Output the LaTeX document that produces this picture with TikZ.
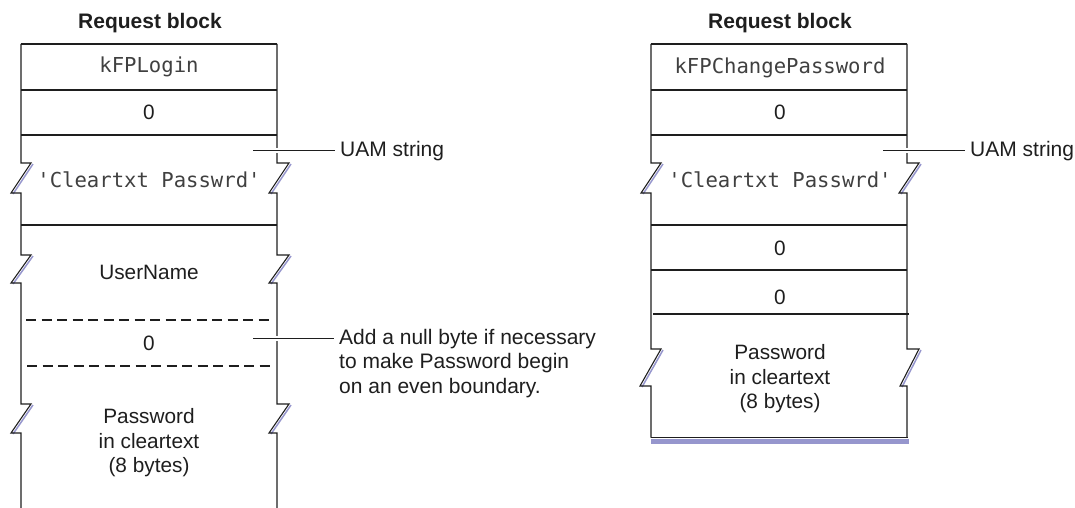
\documentclass[tikz,border=0pt]{standalone}
\usepackage{fontspec}
\setmainfont{Liberation Sans}
\newfontfamily\monofam{DejaVu Sans Mono}
\definecolor{shadowblue}{RGB}{150,150,205}
\definecolor{ink}{RGB}{30,30,30}
\begin{document}
\begin{tikzpicture}[x=1pt,y=-1pt,
  edge/.style={draw=ink, line width=1.1pt, line join=miter},
  sep/.style={draw=ink, line width=1.1pt},
  dsep/.style={draw=ink, line width=1.1pt, dash pattern=on 10pt off 5.5pt},
  shade/.style={draw=shadowblue, line width=1.5pt},
  lbl/.style={font=\fontsize{20.8}{24.5}\selectfont, text=ink, inner sep=0pt, align=center},
  note/.style={font=\fontsize{21}{24.5}\selectfont, text=ink, inner sep=0pt, align=left, anchor=west},
  mono/.style={font=\monofam\fontsize{20.6}{24}\selectfont, text=ink!85, inner sep=0pt},
  heading/.style={font=\bfseries\fontsize{21}{24}\selectfont, text=ink, inner sep=0pt},
  leader/.style={draw=ink, line width=1pt, shorten >=5pt, preaction={draw=white, line width=5pt, shorten >=5pt}}]
\useasboundingbox (0,0) rectangle (1075,508);

% ---------------- left block ----------------
\node[heading] (titleL) at (150,23) {Request block};
% shadows of breaks
\foreach \ya/\yb in {163/193, 255/283, 404/433} {
  \draw[shade] (33,\ya+1) -- (13,\yb+1);
  \draw[shade] (291,\ya+1) -- (271,\yb+1);
}
\draw[edge] (21,44) -- (21,163) -- (31,163) -- (11,193) -- (21,193)
  -- (21,255) -- (31,255) -- (11,283) -- (21,283)
  -- (21,404) -- (31,404) -- (11,433) -- (21,433) -- (21,508);
\draw[edge] (277,44) -- (277,163) -- (289,163) -- (269,193) -- (277,193)
  -- (277,255) -- (289,255) -- (269,283) -- (277,283)
  -- (277,404) -- (289,404) -- (269,433) -- (277,433) -- (277,508);
\foreach \y in {44,90,135,225} \draw[sep] (21,\y) -- (277,\y);
\draw[dsep] (26,320) -- (273,320);
\draw[dsep] (27,366) -- (273,366);

\node[mono] (cmdL) at (149,67) {kFPLogin};
\node[lbl] (zeroL1) at (149,112) {0};
\node[mono] (uamvalL) at (149,180) {'Cleartxt Passwrd'};
\node[lbl] (userL) at (149,272) {UserName};
\node[lbl] (zeroL2) at (149,343) {0};
\node[lbl] (pwL) at (149,443) {Password\\in cleartext\\(8 bytes)};

\node[note] (uamL) at (340,150.7) {UAM string};
\node[note] (nullnote) at (339,363.5) {Add a null byte if necessary\\to make Password begin\\on an even boundary.};
\coordinate (uamLstart) at (253,150.7);
\coordinate (nullstart) at (253,338.5);
\draw[leader] (uamLstart) -- (uamL.west);
\draw[leader] (nullstart) -- (nullstart -| nullnote.west);

% ---------------- right block ----------------
\node[heading] (titleR) at (780,23) {Request block};
\draw[shade] (663,164) -- (643,194);
\draw[shade] (921,164) -- (901,194);
\draw[shade] (663,350) -- (642,387);
\draw[shade] (921,350) -- (902,387);
\fill[shadowblue] (651,438.5) rectangle (908.5,443.5);
\draw[edge] (651,44) -- (651,163) -- (661,163) -- (641,193) -- (651,193)
  -- (651,349) -- (661,349) -- (640,386) -- (651,386) -- (651,437.5);
\draw[edge] (907,44) -- (907,163) -- (919,163) -- (899,193) -- (907,193)
  -- (907,349) -- (919,349) -- (900,386) -- (907,386) -- (907,437.5);
\draw[sep] (650.5,437.5) -- (907.5,437.5);
\foreach \y in {44,90,135,225,270} \draw[sep] (651,\y) -- (907,\y);
\draw[sep] (653,314) -- (909,314);

\node[mono] (cmdR) at (780,68) {kFPChangePassword};
\node[lbl] (zeroR1) at (780,112) {0};
\node[mono] (uamvalR) at (780,180) {'Cleartxt Passwrd'};
\node[lbl] (zeroR2) at (780,248) {0};
\node[lbl] (zeroR3) at (780,297) {0};
\node[lbl] (pwR) at (780,379) {Password\\in cleartext\\(8 bytes)};

\node[note] (uamR) at (970,150.7) {UAM string};
\coordinate (uamRstart) at (883,150.7);
\draw[leader] (uamRstart) -- (uamR.west);
\end{tikzpicture}
\end{document}
